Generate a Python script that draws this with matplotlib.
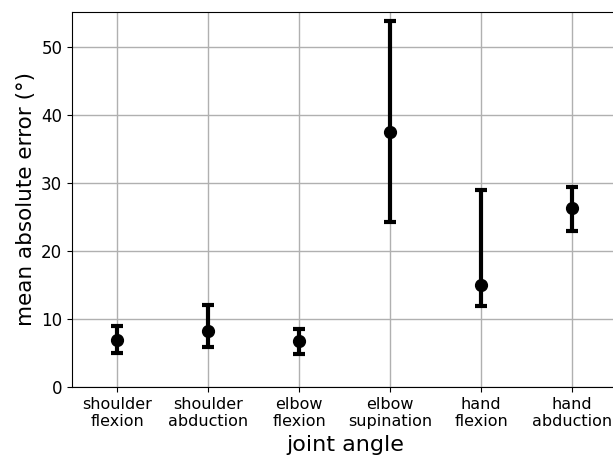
import numpy as np
import matplotlib
matplotlib.use('Agg')
import matplotlib.pyplot as plt

joints = ['shoulder\nflexion', 'shoulder\nabduction', 'elbow\nflexion',
          'elbow\nsupination', 'hand\nflexion', 'hand\nabduction']
mae = np.array([6.9, 8.2, 6.8, 37.5, 15.0, 26.3])
upper = np.array([8.9, 12.0, 8.5, 53.8, 29.0, 29.4])
lower = np.array([5.0, 5.8, 4.9, 24.3, 11.9, 23.0])

fig = plt.figure(figsize=(6.13, 4.59), dpi=100)
ax = fig.add_axes([0.1175, 0.157, 0.89, 0.817])

x = np.arange(len(joints))
yerr = np.vstack([mae - lower, upper - mae])
ax.errorbar(x, mae, yerr=yerr, fmt='o', color='black', ecolor='black',
            markersize=8.5, elinewidth=3, capsize=4.5, capthick=3, zorder=3)

ax.set_xticks(x)
ax.set_xticklabels(joints, fontsize=11.5)
ax.tick_params(axis='y', labelsize=12)
ax.set_xlim(-0.5, 5.5)
ax.set_ylim(0, 55.15)
ax.set_yticks([0, 10, 20, 30, 40, 50])
ax.grid(True, color='#b0b0b0', linewidth=1)
ax.set_axisbelow(True)
ax.set_xlabel('joint angle', fontsize=16)
ax.set_ylabel('mean absolute error (°)', fontsize=15.5)

fig.savefig('out.png', dpi=100)
